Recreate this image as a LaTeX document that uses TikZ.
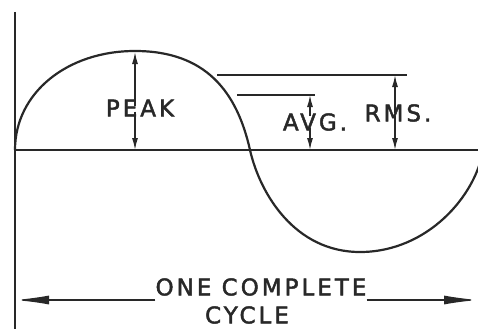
\documentclass[tikz,border=0pt]{standalone}
\usepackage{fontspec}
\usepackage{tikz}
\usetikzlibrary{arrows.meta, positioning, calc}
\newfontfamily\lettering[LetterSpace=13, FakeBold=2]{DejaVu Sans}
\definecolor{ink}{RGB}{40,40,40}
\tikzset{
  curve/.style={line width=2.2pt, color=ink},
  axis/.style={line width=2pt, color=ink},
  extline/.style={line width=1.2pt, color=ink},
  dimarrow/.style={-{Latex[length=12pt, width=6pt]}, line width=1.4pt, color=ink},
  longarrow/.style={-{Latex[length=34pt, width=9pt]}, line width=1.2pt, color=ink},
  lbl/.style={font=\lettering\fontsize{23}{26}\selectfont, color=ink, inner sep=0pt}
}
\begin{document}
\begin{tikzpicture}[x=1pt, y=-1pt]
  \useasboundingbox (0,0) rectangle (478,329);
  \clip (0,0) rectangle (478,329);

  % Axes
  \coordinate (origin) at (15,150);
  \coordinate (axisend) at (478,150);
  \coordinate (vtop) at (15,12);
  \coordinate (vbot) at (15,329);
  \draw[axis] (vtop) -- (vbot);
  \draw[axis] (origin) -- (axisend);

  % Wave
  \coordinate (crest) at (135,51);
  \coordinate (crossing) at (250,150);
  \coordinate (trough) at (360,252);
  \coordinate (waveend) at (483,150);
  \draw[curve] (origin) .. controls (15,93) and (67,51) .. (crest)
    .. controls (206,51) and (237,92) .. (crossing)
    .. controls (260,194) and (295,252) .. (trough)
    .. controls (428,252) and (476,195) .. (waveend);

  % Peak
  \coordinate (peaktop) at (135,52);
  \coordinate (peakbase) at (135,150);
  \node[lbl] (peaklabel) at (140,108) {PEAK};
  \draw[dimarrow] (peaklabel.north -| peaktop) ++(0,7) -- (peaktop);
  \draw[dimarrow] (peaklabel.south -| peakbase) ++(0,-5) -- (peakbase);

  % Average
  \coordinate (avgstart) at (237,95);
  \coordinate (avgtop) at (310,95);
  \coordinate (avgend) at (315,95);
  \coordinate (avgbase) at (310,150);
  \draw[extline] (avgstart) -- (avgend);
  \node[lbl] (avglabel) at (315,122) {AVG.};
  \draw[dimarrow] (avglabel.north -| avgtop) ++(0,3) -- (avgtop);
  \draw[dimarrow] (avglabel.south -| avgbase) ++(0,-3) -- (avgbase);

  % RMS
  \coordinate (rmsstart) at (217,75);
  \coordinate (rmstop) at (395,75);
  \coordinate (rmsend) at (407,75);
  \coordinate (rmsbase) at (395,150);
  \draw[extline] (rmsstart) -- (rmsend);
  \node[lbl] (rmslabel) at (398,113) {RMS.};
  \draw[dimarrow] (rmslabel.north -| rmstop) ++(0,9) -- (rmstop);
  \draw[dimarrow] (rmslabel.south -| rmsbase) ++(0,-6) -- (rmsbase);

  % One complete cycle
  \coordinate (cycleleft) at (15,300);
  \coordinate (cycleright) at (478,300);
  \node[lbl] (onecomplete) at (261,287) {ONE COMPLETE};
  \node[lbl] (cyclelabel) at (247,315) {CYCLE};
  \draw[longarrow] (onecomplete.west |- cycleleft) -- (cycleleft);
  \draw[longarrow] (onecomplete.east |- cycleright) -- (cycleright);
\end{tikzpicture}
\end{document}
